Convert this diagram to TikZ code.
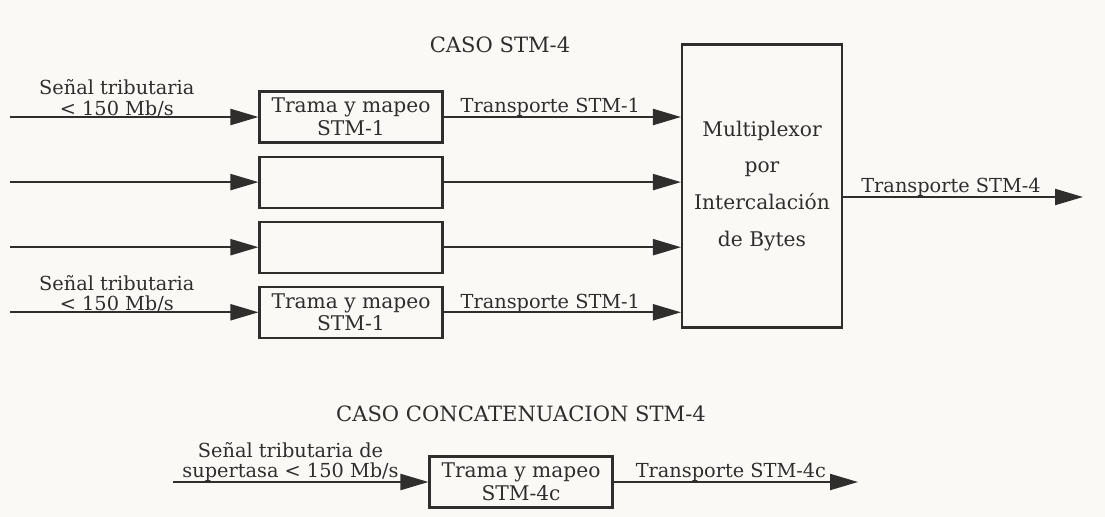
\documentclass[tikz,border=0pt]{standalone}
\usepackage{fontspec}
\setmainfont{DejaVu Serif}
\usepackage{xcolor}
\usepackage{tikz}
\usetikzlibrary{positioning, arrows.meta, calc}

\definecolor{paper}{RGB}{250,249,246}
\definecolor{ink}{RGB}{48,45,45}

\begin{document}
\begin{tikzpicture}[
    x=0.02cm, y=-0.02cm,
    >={Triangle[length=0.56cm,width=0.32cm]},
    node distance=2.4mm,
    line width=1.2pt,
    every node/.style={text=ink},
    box/.style={
        draw=ink,
        line width=1.2pt,
        minimum width=3.66cm,
        minimum height=1.02cm,
        inner sep=1pt,
        align=center,
        font=\fontsize{11.5}{13}\selectfont
    },
    lbl/.style={
        above,
        inner sep=0pt,
        yshift=-0.5pt,
        align=center,
        font=\fontsize{11}{11.5}\selectfont
    },
    title/.style={font=\fontsize{12}{14}\selectfont}
]
  \fill[paper] (0,0) rectangle (1105,517);
  \useasboundingbox (0,0) rectangle (1105,517);

  % CASO STM-4
  \node[title] (t1) at (500,45) {CASO STM-4};

  \node[box] (b1) at (351,117) {Trama y mapeo\\STM-1};
  \node[box,below=of b1] (b2) {};
  \node[box,below=of b2] (b3) {};
  \node[box,below=of b3] (b4) {Trama y mapeo\\STM-1};

  \node[box,minimum width=3.2cm,minimum height=5.66cm,
        font=\fontsize{11.5}{14}\selectfont] (mux) at (762,186)
        {Multiplexor\\[7pt]por\\[7pt]Intercalación\\[7pt]de Bytes};

  \coordinate (i1) at (10,0 |- b1);
  \coordinate (i2) at (10,0 |- b2);
  \coordinate (i3) at (10,0 |- b3);
  \coordinate (i4) at (10,0 |- b4);
  \coordinate (o4) at (1083,197);

  \draw[->,draw=ink] (i1) -- node[lbl,pos=0.43] {Señal tributaria\\< 150 Mb/s} (b1);
  \draw[->,draw=ink] (i2) -- (b2);
  \draw[->,draw=ink] (i3) -- (b3);
  \draw[->,draw=ink] (i4) -- node[lbl,pos=0.43] {Señal tributaria\\< 150 Mb/s} (b4);

  \draw[->,draw=ink] (b1.east) -- node[lbl,pos=0.45] {Transporte STM-1} (b1.east -| mux.west);
  \draw[->,draw=ink] (b2.east) -- (b2.east -| mux.west);
  \draw[->,draw=ink] (b3.east) -- (b3.east -| mux.west);
  \draw[->,draw=ink] (b4.east) -- node[lbl,pos=0.45] {Transporte STM-1} (b4.east -| mux.west);

  \draw[->,draw=ink] (mux.east |- o4) -- node[lbl,pos=0.45] {Transporte STM-4} (o4);

  % CASO CONCATENUACION STM-4
  \node[title] (t2) at (521,414) {CASO CONCATENUACION STM-4};

  \node[box] (bc) at (521,482) {Trama y mapeo\\STM-4c};
  \coordinate (ic) at (173,482);
  \coordinate (oc) at (858,482);

  \draw[->,draw=ink] (ic) -- node[lbl,pos=0.46] {Señal tributaria de\\supertasa < 150 Mb/s} (bc);
  \draw[->,draw=ink] (bc) -- node[lbl,pos=0.48] {Transporte STM-4c} (oc);
\end{tikzpicture}
\end{document}
